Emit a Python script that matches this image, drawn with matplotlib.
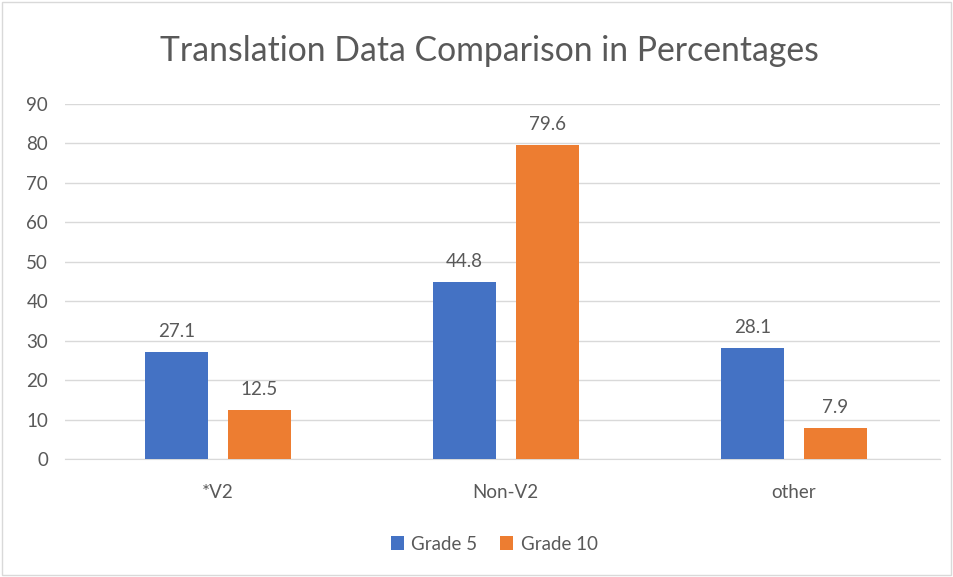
import matplotlib.pyplot as plt
import numpy as np
from matplotlib.patches import Rectangle

plt.rcParams['font.family'] = ['Lato', 'DejaVu Sans']

categories = ['*V2', 'Non-V2', 'other']
grade5 = [27.1, 44.8, 28.1]
grade10 = [12.5, 79.6, 7.9]
yticks = [0, 10, 20, 30, 40, 50, 60, 70, 80, 90]

blue = '#4472C4'
orange = '#ED7D31'
txt = '#595959'

fig = plt.figure(figsize=(9.54, 5.77), dpi=100)
fig.patches.append(Rectangle((0.002, 0.003), 0.995, 0.994, transform=fig.transFigure,
                             fill=False, edgecolor='#D9D9D9', linewidth=1))
ax = fig.add_axes([0.068, 0.2045, 0.917, 0.6155])

x = np.arange(len(categories))
w = 0.219
off = 0.144
b1 = ax.bar(x - off, grade5, w, color=blue, label='Grade 5', zorder=3)
b2 = ax.bar(x + off, grade10, w, color=orange, label='Grade 10', zorder=3)

for bars, vals in [(b1, grade5), (b2, grade10)]:
    for r, v in zip(bars, vals):
        ax.text(r.get_x() + r.get_width() / 2, v + 3, f'{v}', ha='center', va='bottom',
                fontsize=13.5, color=txt)

ax.set_xlim(-0.531, 2.507)
ax.set_ylim(0, 90)
ax.set_yticks(yticks)
ax.set_xticks(x)
ax.set_xticklabels(categories)
ax.tick_params(axis='both', length=0, labelsize=13.5, labelcolor=txt)
ax.tick_params(axis='x', pad=18)
ax.tick_params(axis='y', pad=12)
ax.grid(axis='y', color='#D9D9D9', linewidth=1, zorder=0)
for s in ['top', 'right', 'left']:
    ax.spines[s].set_visible(False)
ax.spines['bottom'].set_color('#D9D9D9')

fig.text(0.513, 0.912, 'Translation Data Comparison in Percentages', ha='center', va='center',
         fontsize=24.3, color=txt)

fig.legend(handles=[b1, b2], loc='center', bbox_to_anchor=(0.518, 0.057), ncol=2,
           frameon=False, fontsize=13.5, handlelength=0.7, handleheight=0.7,
           columnspacing=1.2, handletextpad=0.4, labelcolor=txt)

fig.savefig('out.png', dpi=100)
